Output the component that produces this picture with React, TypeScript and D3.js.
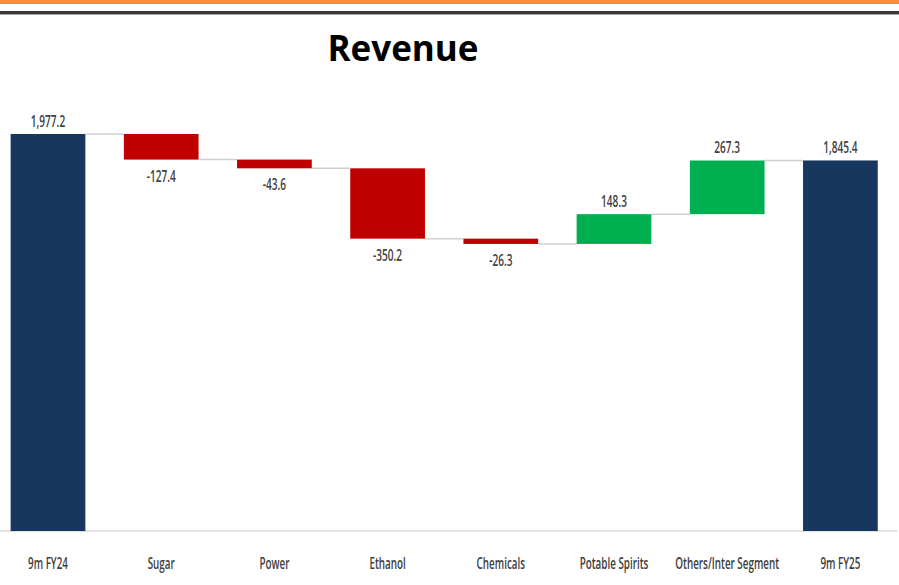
import React from "react";
import * as d3 from "d3";

const categories = ["9m FY24", "Sugar", "Power", "Ethanol", "Chemicals", "Potable Spirits", "Others/Inter Segment", "9m FY25"];
const values = [1977.2, -127.4, -43.6, -350.2, -26.3, 148.3, 267.3, 1845.4];
const kinds = ["total", "delta", "delta", "delta", "delta", "delta", "delta", "total"];
const labels = ["1,977.2", "-127.4", "-43.6", "-350.2", "-26.3", "148.3", "267.3", "1,845.4"];

const W = 899;
const H = 585;

export default function App() {
  const x = d3.scaleBand<string>().domain(categories).range([-8.6, 897]).paddingInner(0.34).paddingOuter(0.17);
  const y = d3.scaleLinear().domain([0, 1977.2]).range([531, 134]);

  let running = 0;
  const bars = categories.map((c, i) => {
    const v = values[i];
    let start: number, end: number;
    if (kinds[i] === "total") {
      start = 0;
      end = v;
      running = v;
    } else {
      start = running;
      end = running + v;
      running = end;
    }
    return { c, v, start, end, level: end, kind: kinds[i], label: labels[i] };
  });

  const colorOf = (b: any) => (b.kind === "total" ? "#17375E" : b.v < 0 ? "#C00000" : "#00B050");
  const bw = x.bandwidth();

  return (
    <svg width={W} height={H} style={{ position: "absolute", left: 0, top: 0, background: "#fff" }}>
      <rect x={0} y={0} width={W} height={4} fill="#FF8C33" />
      <rect x={0} y={11} width={W} height={3} fill="#3a3a3a" />
      <rect x={0} y={14} width={W} height={1} fill="#a8a8a8" />
      <text x={403} y={61} textAnchor="middle" fontFamily="'Open Sans', sans-serif" fontWeight={700} fontSize={35} fill="#000">
        Revenue
      </text>
      <line x1={0} x2={897} y1={531} y2={531} stroke="#d9d9d9" strokeWidth={1.5} />
      {bars.slice(0, -1).map((b, i) => {
        const x1 = (x(b.c) as number) + bw;
        const x2 = x(categories[i + 1]) as number;
        return <line key={"c" + i} x1={x1} x2={x2} y1={y(b.level)} y2={y(b.level)} stroke="#d0d0d0" strokeWidth={1.5} />;
      })}
      {bars.map((b, i) => {
        const top = y(Math.max(b.start, b.end));
        const bot = y(Math.min(b.start, b.end));
        return <rect key={"b" + i} x={x(b.c)} y={top} width={bw} height={Math.max(1, bot - top)} fill={colorOf(b)} />;
      })}
      {bars.map((b, i) => {
        const cx = (x(b.c) as number) + bw / 2;
        const neg = b.kind === "delta" && b.v < 0;
        const ty = neg ? y(Math.min(b.start, b.end)) + 22 : y(Math.max(b.start, b.end)) - 7;
        return (
          <text key={"l" + i} transform={`translate(${cx},${ty}) scale(0.63,1)`} textAnchor="middle" fontFamily="'Open Sans', sans-serif" fontWeight={600} fontSize={16} fill="#404040">
            {b.label}
          </text>
        );
      })}
      {categories.map((c, i) => {
        const cx = (x(c) as number) + bw / 2;
        return (
          <text key={"t" + i} transform={`translate(${cx},569) scale(0.636,1)`} textAnchor="middle" fontFamily="'Open Sans', sans-serif" fontWeight={600} fontSize={15.5} fill="#404040">
            {c}
          </text>
        );
      })}
    </svg>
  );
}
